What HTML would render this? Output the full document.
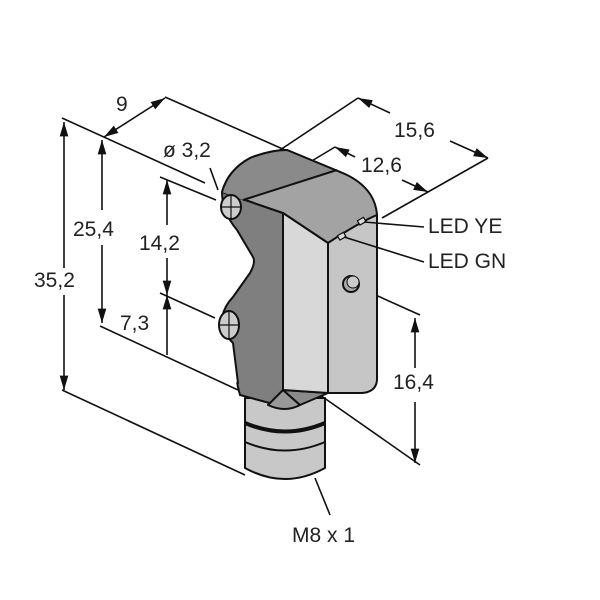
<!DOCTYPE html>
<html><head><style>body{margin:0;background:#fff}svg{display:block}</style></head><body>
<svg width="600" height="600" viewBox="0 0 600 600" xmlns="http://www.w3.org/2000/svg" font-family="Liberation Sans, sans-serif" font-size="21" fill="#222">
<defs><marker id="a" viewBox="0 0 10 10" refX="10" refY="5" markerWidth="9" markerHeight="9" orient="auto-start-reverse"><path d="M0,2 L10,5 L0,8z" fill="#111"/></marker></defs>
<g stroke="#111" stroke-width="1.6" fill="none">
<line x1="62" y1="118" x2="205" y2="183"/>
<line x1="62" y1="390" x2="245" y2="475"/>
<line x1="100" y1="326" x2="238" y2="390"/>
<line x1="160" y1="177" x2="216" y2="200"/>
<line x1="160" y1="293" x2="215" y2="318"/>
<line x1="165" y1="97" x2="285" y2="150"/>
<line x1="358" y1="98" x2="280" y2="150"/>
<line x1="335" y1="147" x2="300" y2="168"/>
<line x1="488" y1="158" x2="382" y2="218"/>
<line x1="320" y1="395" x2="420" y2="465"/>
<line x1="360" y1="288" x2="420" y2="315"/>
<line x1="104" y1="137" x2="165" y2="98" marker-start="url(#a)" marker-end="url(#a)"/>
<line x1="64" y1="122" x2="64" y2="268" marker-start="url(#a)"/>
<line x1="64" y1="295" x2="64" y2="390" marker-end="url(#a)"/>
<line x1="102" y1="140" x2="102" y2="210" marker-start="url(#a)"/>
<line x1="102" y1="245" x2="102" y2="323" marker-end="url(#a)"/>
<line x1="167" y1="180" x2="167" y2="225" marker-start="url(#a)"/>
<line x1="167" y1="258" x2="167" y2="295" marker-end="url(#a)"/>
<line x1="167" y1="295" x2="167" y2="355" marker-start="url(#a)"/>
<line x1="415" y1="318" x2="415" y2="368" marker-start="url(#a)"/>
<line x1="415" y1="402" x2="415" y2="463" marker-end="url(#a)"/>
<line x1="358" y1="98" x2="390" y2="113" marker-start="url(#a)"/>
<line x1="450" y1="141" x2="488" y2="158" marker-end="url(#a)"/>
<line x1="335" y1="147" x2="355" y2="157" marker-start="url(#a)"/>
<line x1="402" y1="180" x2="428" y2="192" marker-end="url(#a)"/>
<line x1="210" y1="168" x2="218" y2="190"/>
<line x1="315" y1="478" x2="330" y2="515"/>
</g>
<g stroke="#111" stroke-width="2" stroke-linejoin="round">
<!-- connector -->
<path d="M245,398 L245,468 Q285,490 325,468 L325,398 Z" fill="#c8c8c8"/>
<path d="M245,423 Q285,440 325,423" fill="none" stroke-width="4"/>
<path d="M245,442 Q285,459 325,442" fill="none"/>
<!-- left dark face -->
<path d="M222,192 L283,213 L283,390 L277,405 L240,395 Q236,380 238,383 L233,343 Q220,330 222,317 Q225,305 233,297 L250,273 Q256,262 253,257 L237,230 Q222,212 222,192 Z" fill="#7f7f7f"/>
<!-- wedge under -->
<path d="M283,390 L268,405 Q285,413 300,405 Z" fill="#999"/>
<path d="M283,390 L328,393 L300,405 Z" fill="#8a8a8a"/>
<!-- top face -->
<path d="M222,192 Q228,170 250,158 Q270,150 287,150 L345,174 Q375,188 377,215 Q360,222 328,243 L283,213 Z" fill="#a3a3a3"/>
<path d="M222,192 Q228,170 250,158 Q270,150 287,150 L337,170 L243,200 Z" fill="#8a8a8a" stroke="none"/>
<path d="M243,200 L337,170" fill="none"/>
<path d="M222,192 Q228,170 250,158 Q270,150 287,150 L345,174" fill="none"/>
<!-- front face -->
<path d="M283,213 L328,243 L328,393 L283,390 Z" fill="#d8d8d8"/>
<!-- right face -->
<path d="M328,243 Q360,222 377,215 L377,380 Q376,392 362,393 L328,393 Z" fill="#c6c6c6"/>
<ellipse cx="231" cy="207" rx="10" ry="12" fill="#ccc"/>
<ellipse cx="229" cy="325" rx="10" ry="14" fill="#ccc"/>
<path d="M221,207 H241 M231,195 V219 M219,325 H239 M229,311 V339" stroke-width="1.2"/>
<ellipse cx="351" cy="284" rx="8" ry="8" fill="#aaa"/>
<ellipse cx="353" cy="282" rx="6" ry="6" fill="#ccc" stroke-width="1"/>
<rect x="358" y="219" width="7" height="5" fill="#ddd" stroke-width="1.2" transform="rotate(-30 361 221)"/>
<rect x="338" y="234" width="7" height="5" fill="#ddd" stroke-width="1.2" transform="rotate(-30 341 236)"/>
</g>
<g stroke="#111" stroke-width="1.6">
<line x1="364" y1="222" x2="424" y2="227"/>
<line x1="344" y1="237" x2="424" y2="262"/>
</g>
<text x="116" y="111">9</text>
<text x="163" y="157">ø 3,2</text>
<text x="34" y="287">35,2</text>
<text x="73" y="236">25,4</text>
<text x="139" y="250">14,2</text>
<text x="120" y="330">7,3</text>
<text x="393" y="389">16,4</text>
<text x="394" y="137">15,6</text>
<text x="361" y="172">12,6</text>
<text x="428" y="233">LED YE</text>
<text x="428" y="268">LED GN</text>
<text x="292" y="542">M8 x 1</text>
</svg>
</body></html>
